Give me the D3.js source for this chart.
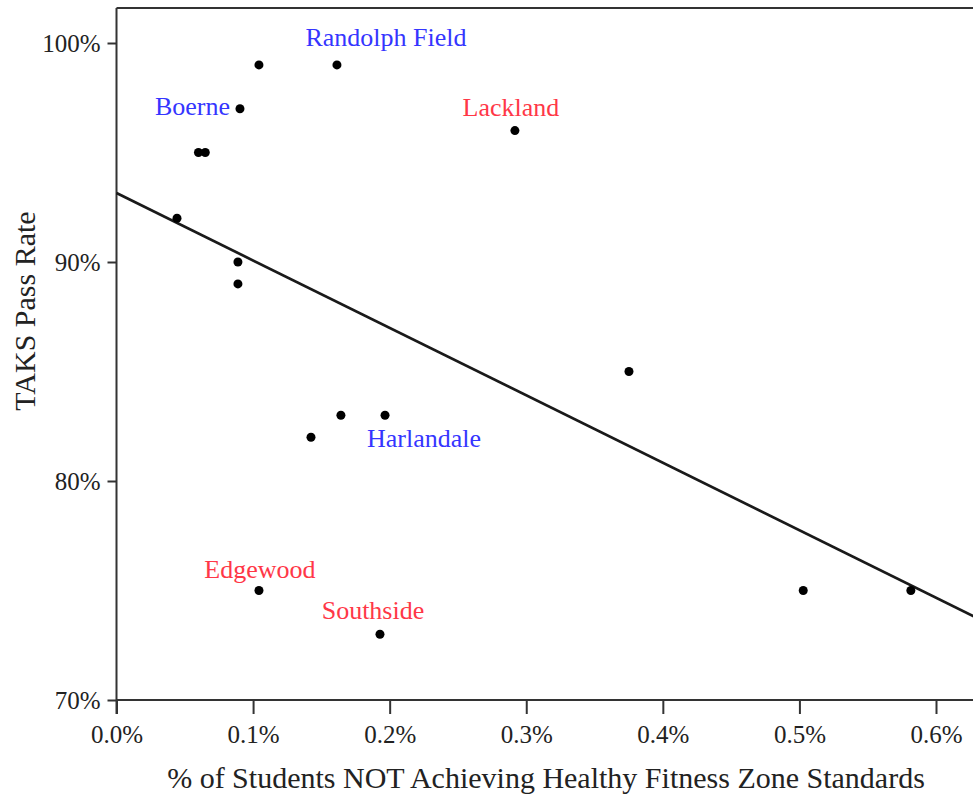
<!DOCTYPE html>
<html>
<head>
<meta charset="utf-8">
<script src="https://cdn.jsdelivr.net/npm/d3@7"></script>
<style>
  body { margin: 0; background: #fff; }
  text { font-family: "Liberation Serif", "Times New Roman", serif; }
</style>
</head>
<body>
<div id="chart"></div>
<script>
// data (x in %, y in %)
const schools = ["", "Randolph Field", "Boerne", "", "", "", "", "", "Lackland", "", "", "Harlandale", "", "Edgewood", "Southside", "", ""];
const notFit  = [0.1043, 0.1614, 0.0904, 0.0600, 0.0650, 0.0443, 0.0889, 0.0889, 0.2917, 0.3752, 0.1643, 0.1966, 0.1424, 0.1043, 0.1929, 0.5028, 0.5816];
const passRate = [99, 99, 97, 95, 95, 92, 90, 89, 96, 85, 83, 83, 82, 75, 73, 75, 75];
const labelColor = ["", "blue", "blue", "", "", "", "", "", "red", "", "", "blue", "", "red", "red", "", ""];
const trendX = [0, 0.63];
const trendY = [93.15, 73.75];
const xTicks = [0, 0.1, 0.2, 0.3, 0.4, 0.5, 0.6];
const yTicks = [70, 80, 90, 100];

const width = 973, height = 795;
const colors = {blue: "#3535ff", red: "#ff3747"};

// label offsets relative to the point
const labelPos = {
  "Randolph Field": {dx: 49, dy: -19, anchor: "middle"},
  "Boerne": {dx: -10, dy: 6, anchor: "end"},
  "Lackland": {dx: -4, dy: -15, anchor: "middle"},
  "Harlandale": {dx: -18, dy: 32, anchor: "start"},
  "Edgewood": {dx: 1, dy: -13, anchor: "middle"},
  "Southside": {dx: -7, dy: -15, anchor: "middle"}
};

const svg = d3.select("#chart")
  .append("svg")
    .attr("width", width)
    .attr("height", height);

const x = d3.scaleLinear().domain([0, 0.6]).range([116.5, 936]);
const y = d3.scaleLinear().domain([70, 100]).range([700, 43]);

const data = notFit.map((v, i) => ({x: v, y: passRate[i], name: schools[i], color: labelColor[i]}));

// top frame line
svg.append("line")
  .attr("x1", 116.5).attr("x2", width)
  .attr("y1", 8).attr("y2", 8)
  .attr("stroke", "#333").attr("stroke-width", 2);

// x axis
const xAxis = svg.append("g")
  .attr("transform", `translate(0, 700)`)
  .call(d3.axisBottom(x).tickValues(xTicks).tickSize(14).tickPadding(11)
    .tickFormat(d => d.toFixed(1) + "%"));
xAxis.select(".domain").remove();
xAxis.append("line")
  .attr("x1", 116.5).attr("x2", width)
  .attr("stroke", "#333").attr("stroke-width", 2);

// y axis
const yAxis = svg.append("g")
  .attr("transform", `translate(116.5, 0)`)
  .call(d3.axisLeft(y).tickValues(yTicks).tickSize(9).tickPadding(7)
    .tickFormat(d => d + "%"));
yAxis.select(".domain").remove();
yAxis.append("line")
  .attr("y1", 8).attr("y2", 714)
  .attr("stroke", "#333").attr("stroke-width", 2);

svg.selectAll(".tick line").attr("stroke", "#333").attr("stroke-width", 2);
svg.selectAll(".tick text")
  .attr("font-size", 25)
  .attr("font-family", "Liberation Serif")
  .attr("fill", "#222");

// regression line
const trend = d3.line().x(d => x(d[0])).y(d => y(d[1]));
svg.append("path")
  .datum(trendX.map((v, i) => [v, trendY[i]]))
  .attr("d", trend)
  .attr("fill", "none")
  .attr("stroke", "#1a1a1a")
  .attr("stroke-width", 2.7);

// points
svg.selectAll(".dot")
  .data(data)
  .join("circle")
    .attr("class", "dot")
    .attr("cx", d => x(d.x))
    .attr("cy", d => y(d.y))
    .attr("r", 4.5)
    .attr("fill", "#000");

// school labels
svg.selectAll(".lab")
  .data(data.filter(d => d.name))
  .join("text")
    .attr("class", "lab")
    .attr("x", d => x(d.x) + labelPos[d.name].dx)
    .attr("y", d => y(d.y) + labelPos[d.name].dy)
    .attr("text-anchor", d => labelPos[d.name].anchor)
    .attr("font-size", 26)
    .attr("fill", d => colors[d.color])
    .text(d => d.name);

// axis titles
svg.append("text")
  .attr("x", 546).attr("y", 788)
  .attr("text-anchor", "middle")
  .attr("font-size", 30)
  .attr("fill", "#222")
  .text("% of Students NOT Achieving Healthy Fitness Zone Standards");

svg.append("text")
  .attr("transform", "translate(35, 311) rotate(-90)")
  .attr("text-anchor", "middle")
  .attr("font-size", 30)
  .attr("fill", "#222")
  .text("TAKS Pass Rate");
</script>
</body>
</html>
